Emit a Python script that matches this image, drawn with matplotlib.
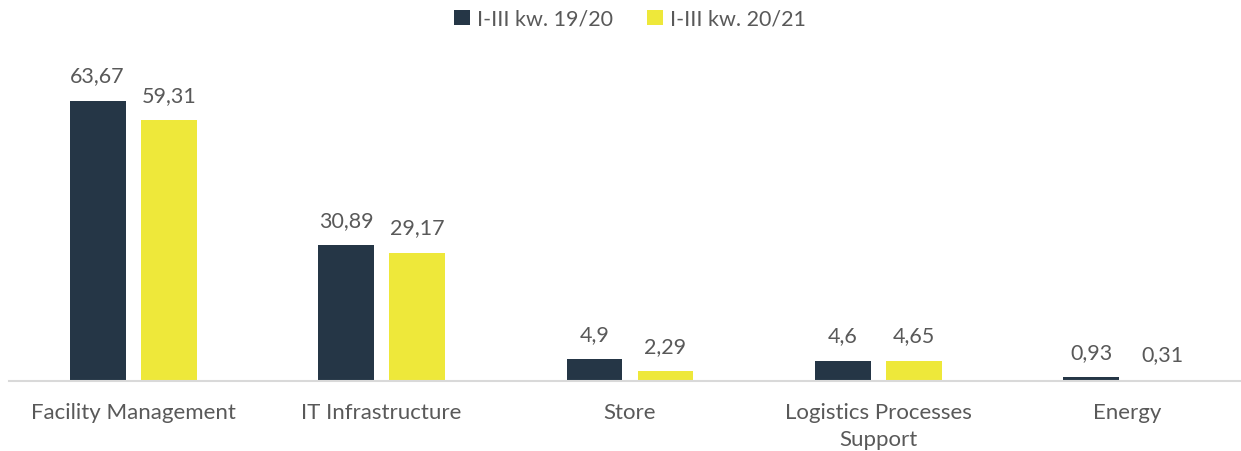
import matplotlib
matplotlib.use("Agg")
import matplotlib.pyplot as plt
import numpy as np

categories = ["Facility Management", "IT Infrastructure", "Store", "Logistics Processes\nSupport", "Energy"]
series_names = ["I-III kw. 19/20", "I-III kw. 20/21"]
values_1920 = [63.67, 30.89, 4.9, 4.6, 0.93]
values_2021 = [59.31, 29.17, 2.29, 4.65, 0.31]
labels_1920 = ["63,67", "30,89", "4,9", "4,6", "0,93"]
labels_2021 = ["59,31", "29,17", "2,29", "4,65", "0,31"]

colors = ["#253646", "#EEE83A"]
text_color = "#595959"

plt.rcParams['font.family'] = ['Lato', 'DejaVu Sans']

W, H = 1241, 452
fig = plt.figure(figsize=(W/100, H/100), dpi=100)
ax = fig.add_axes([9/W, (H-382)/H, 1242/W, 308/H])

x = np.arange(len(categories))
bw = 0.225
off = 0.143
b1 = ax.bar(x - off, values_1920, bw, color=colors[0], label=series_names[0])
b2 = ax.bar(x + off, values_2021, bw, color=colors[1], label=series_names[1])

for bars, labs in ((b1, labels_1920), (b2, labels_2021)):
    for r, lab in zip(bars, labs):
        ax.annotate(lab, (r.get_x() + r.get_width()/2, r.get_height()),
                    xytext=(0, 11), textcoords="offset points",
                    ha="center", va="bottom", fontsize=15.5, color=text_color)

ax.set_xlim(-0.5, 4.5)
ax.set_ylim(0, 70)
ax.set_yticks([])
ax.set_xticks(x)
ax.set_xticklabels(categories, fontsize=16, color=text_color, linespacing=1.45)
ax.tick_params(axis='x', length=0, pad=15)
for s in ["top", "right", "left"]:
    ax.spines[s].set_visible(False)
ax.spines["bottom"].set_color("#D9D9D9")
ax.spines["bottom"].set_linewidth(1.5)

leg = fig.legend(handles=[b1, b2], labels=series_names, loc="center",
                 bbox_to_anchor=(630/W, 1 - 20/H), ncol=2, frameon=False,
                 fontsize=15.5, handlelength=0.75, handleheight=0.75,
                 handletextpad=0.3, columnspacing=1.6)
for t in leg.get_texts():
    t.set_color(text_color)

fig.savefig("out.png", dpi=100)
